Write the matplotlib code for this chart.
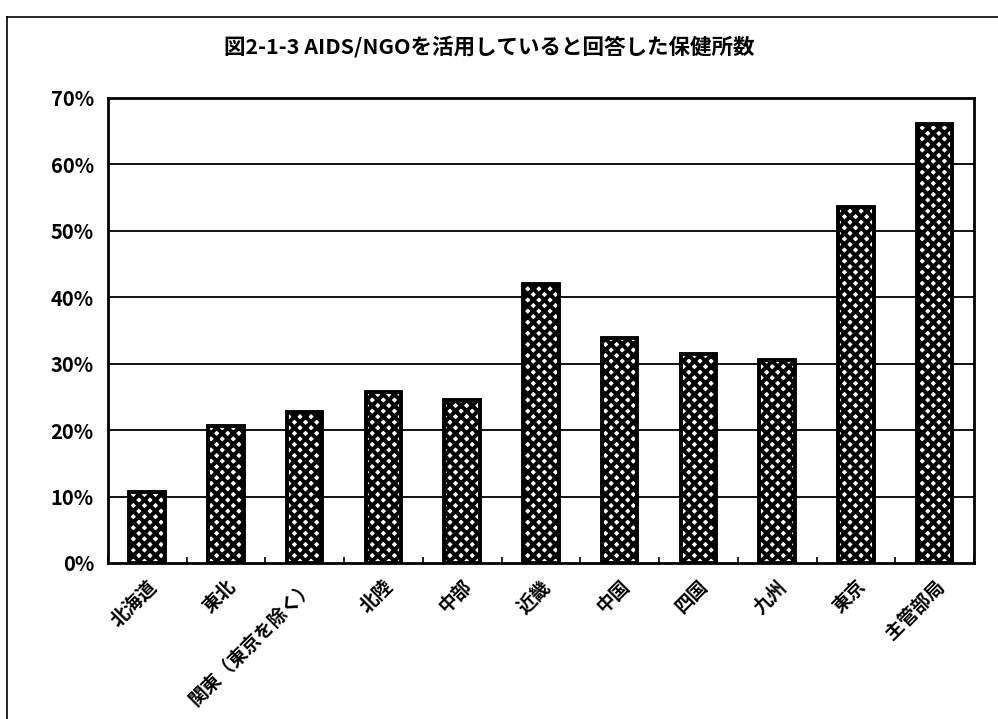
import numpy as np
import matplotlib
matplotlib.use("Agg")
import matplotlib.pyplot as plt
from matplotlib.lines import Line2D
from matplotlib.ticker import FixedLocator

plt.rcParams['font.family'] = ['Noto Sans CJK JP', 'DejaVu Sans']
plt.rcParams['hatch.linewidth'] = 2.9

# data
regions = ['北海道', '東北', '関東（東京を除く）', '北陸', '中部', '近畿',
           '中国', '四国', '九州', '東京', '主管部局']
shares = [10.7, 20.6, 22.7, 25.7, 24.5, 42.0, 33.8, 31.5, 30.6, 53.6, 66.0]
yticks = [0, 10, 20, 30, 40, 50, 60, 70]
title = '図2-1-3 AIDS/NGOを活用していると回答した保健所数'

fig = plt.figure(figsize=(9.98, 7.19), dpi=100)
ax = fig.add_axes([0.108, 0.217, 0.868, 0.647])

x = np.arange(len(regions))
ax.bar(x, shares, width=0.45, facecolor='white', edgecolor='black',
       hatch='xxx', linewidth=2.8, zorder=3)

# gridlines
for v in yticks[1:-1]:
    ax.axhline(v, color='black', linewidth=1.3, zorder=1)

ax.set_xlim(-0.5, len(regions) - 0.5)
ax.set_ylim(0, 70)
ax.set_yticks(yticks)
ax.set_yticklabels([f'{v}%' for v in yticks], fontsize=14.5, fontweight='bold')
ax.tick_params(axis='y', length=0, pad=10)

ax.set_xticks(x)
ax.set_xticklabels(regions, rotation=45, ha='right', va='top',
                   rotation_mode='anchor', fontsize=13.5, fontweight='bold')
ax.tick_params(axis='x', which='major', length=0, pad=10)
ax.xaxis.set_minor_locator(FixedLocator(np.arange(-0.5, len(regions), 1.0)))
ax.tick_params(axis='x', which='minor', length=4, direction='in', width=1.2)

for s in ax.spines.values():
    s.set_linewidth(2)
    s.set_color('black')

fig.text(0.49, 0.935, title, ha='center', va='center',
         fontsize=15.5, fontweight='bold')

# outer frame (cut off on the right and bottom in the scan)
fig.add_artist(Line2D([0.007, 0.007], [0.0, 0.977], color='black', linewidth=1.2,
                      transform=fig.transFigure))
fig.add_artist(Line2D([0.007, 1.0], [0.977, 0.977], color='black', linewidth=1.2,
                      transform=fig.transFigure))

fig.savefig('out.png', dpi=100)
